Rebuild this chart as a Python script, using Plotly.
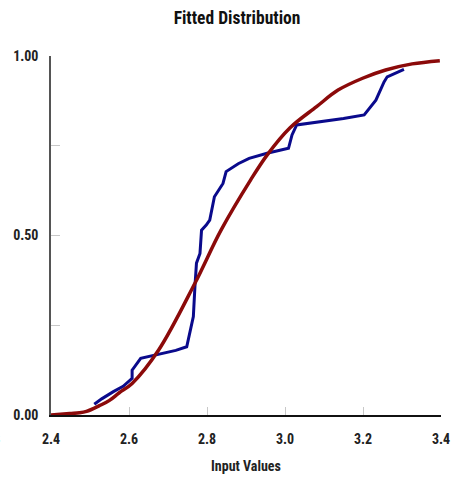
import plotly.graph_objects as go

# Fitted (red) CDF points
fit_x = [2.40, 2.448, 2.473, 2.491, 2.524, 2.549, 2.575, 2.608, 2.676, 2.769, 2.836,
         2.912, 2.954, 3.013, 3.081, 3.136, 3.199, 3.258, 3.326, 3.397]
fit_y = [0.000, 0.004, 0.006, 0.010, 0.026, 0.040, 0.062, 0.088, 0.181, 0.367, 0.515,
         0.655, 0.724, 0.800, 0.859, 0.905, 0.938, 0.961, 0.978, 0.987]

emp_x = [2.511, 2.530, 2.560, 2.585, 2.608, 2.608, 2.630, 2.680, 2.720, 2.748, 2.765,
         2.769, 2.773, 2.782, 2.786, 2.798, 2.807, 2.819, 2.841, 2.849, 2.880, 2.908,
         2.954, 3.009, 3.018, 3.030, 3.100, 3.150, 3.203, 3.233, 3.254, 3.262, 3.305]
emp_y = [0.030, 0.045, 0.065, 0.080, 0.102, 0.125, 0.158, 0.170, 0.180, 0.190, 0.274,
         0.357, 0.423, 0.450, 0.515, 0.529, 0.543, 0.608, 0.645, 0.678, 0.700, 0.715,
         0.729, 0.743, 0.780, 0.808, 0.818, 0.826, 0.836, 0.877, 0.928, 0.942, 0.963]

x_ticks = [2.4, 2.6, 2.8, 3.0, 3.2, 3.4]
x_labels = ["2.4", "2.6", "2.8", "3.0", "3.2", "3.4"]
y_ticks = [0, 0.25, 0.5, 0.75, 1.0]
y_labels = ["0.00", "", "0.50", "", "1.00"]

FONT = "Roboto Condensed, Liberation Sans Narrow, Arial Narrow, Roboto, sans-serif"

fig = go.Figure()
fig.add_trace(go.Scatter(x=emp_x, y=emp_y, mode="lines",
                         line=dict(color="#0a0a8c", width=3), showlegend=False))
fig.add_trace(go.Scatter(x=fit_x, y=fit_y, mode="lines",
                         line=dict(color="#8b0a0a", width=3.5, shape="spline"),
                         showlegend=False))

fig.update_layout(
    width=462, height=486,
    margin=dict(l=51, r=12, t=56, b=71),
    paper_bgcolor="white", plot_bgcolor="white",
    title=dict(text="<b>Fitted Distribution</b>", x=0.513, xanchor="center",
               y=0.963, yanchor="middle",
               font=dict(family=FONT, size=17.5, color="#111")),
    xaxis=dict(range=[2.4, 3.4], tickvals=x_ticks, ticktext=[f"<b>{t}</b>" for t in x_labels],
               showgrid=False, zeroline=False, showline=True, linecolor="#111", linewidth=1.5,
               ticks="inside", ticklen=8, tickcolor="#c8c8c8", tickwidth=1,
               ticklabelstandoff=10,
               tickfont=dict(family=FONT, size=14, color="#222"),
               title=dict(text="<b>Input Values</b>", standoff=16,
                          font=dict(family=FONT, size=14, color="#222"))),
    yaxis=dict(range=[0, 1.0], tickvals=y_ticks,
               ticktext=[f"<b>{t}</b>" if t else "" for t in y_labels],
               showgrid=False, zeroline=False, showline=True, linecolor="#555", linewidth=1.5,
               ticks="inside", ticklen=9, tickcolor="#c8c8c8", tickwidth=1,
               ticklabelstandoff=8,
               tickfont=dict(family=FONT, size=14, color="#222")),
)

fig.add_annotation(text="s", xref="paper", yref="paper",
                   x=-0.125, y=-0.065, xanchor="right", yanchor="middle", showarrow=False,
                   font=dict(family=FONT, size=14, color="#2a8ae0"))

fig.write_html("out.html")
